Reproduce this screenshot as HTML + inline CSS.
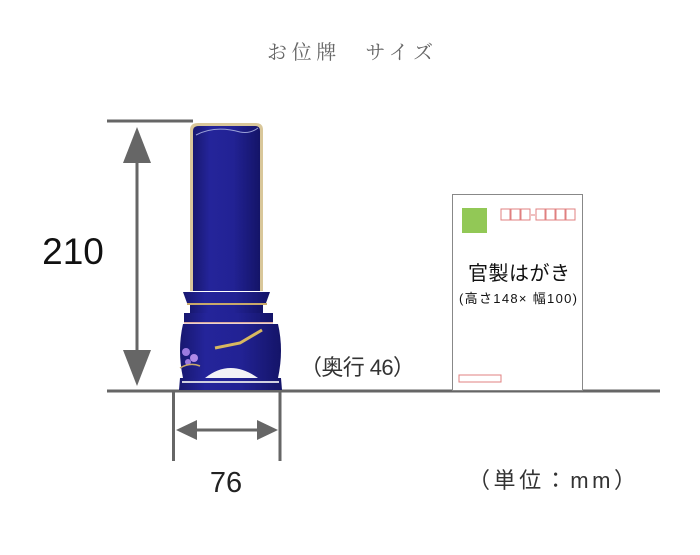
<!DOCTYPE html>
<html><head><meta charset="utf-8"><style>
html,body{margin:0;padding:0;background:#fff;}
body{width:700px;height:550px;overflow:hidden;}
</style></head><body>
<svg width="700" height="550" viewBox="0 0 700 550" xmlns="http://www.w3.org/2000/svg" font-family="Liberation Sans, Noto Sans CJK JP, sans-serif">
<defs>
<linearGradient id="bl" x1="0" x2="1" y1="0" y2="0">
<stop offset="0" stop-color="#181870"/><stop offset="0.25" stop-color="#24249a"/><stop offset="0.6" stop-color="#222294"/><stop offset="1" stop-color="#141468"/>
</linearGradient>
</defs>
<text x="350" y="59" text-anchor="middle" font-size="20" fill="#666" font-family="Liberation Serif, Noto Serif CJK SC, serif" textLength="166">お位牌　サイズ</text>
<line x1="107" y1="121" x2="193" y2="121" stroke="#666" stroke-width="3"/>
<line x1="107" y1="391" x2="660" y2="391" stroke="#666" stroke-width="3"/>
<line x1="137" y1="150" x2="137" y2="360" stroke="#666" stroke-width="3"/>
<polygon points="137,127 123,163 151,163" fill="#666"/>
<polygon points="137,386 123,350 151,350" fill="#666"/>
<line x1="173.5" y1="391" x2="173.5" y2="461" stroke="#666" stroke-width="3"/>
<line x1="280" y1="391" x2="280" y2="461" stroke="#666" stroke-width="3"/>
<line x1="190" y1="430" x2="265" y2="430" stroke="#666" stroke-width="3"/>
<polygon points="176,430 197,420 197,440" fill="#666"/>
<polygon points="278,430 257,420 257,440" fill="#666"/>
<text x="73" y="264" text-anchor="middle" font-size="37" fill="#111">210</text>
<text x="226" y="492" text-anchor="middle" font-size="29" fill="#222">76</text>
<text x="300" y="375" font-size="22" fill="#333" textLength="115">（奥行 46）</text>
<text x="468" y="488" font-size="22" fill="#333" textLength="168">（単位：mm）</text>
<path d="M190,291 L190,130 Q190,123 198,123 L256,123 Q263,123 263,130 L263,291 Z" fill="#d9c79a"/>
<path d="M193,291 L193,131 Q193,126 199,126 L255,126 Q260,126 260,131 L260,291 Z" fill="url(#bl)"/>
<path d="M196,135 Q215,125 240,132 Q250,134 258,128" stroke="#9aa0d8" stroke-width="1" fill="none"/>
<path d="M183,292 L270,292 L266,303 L187,303 Z" fill="url(#bl)"/>
<rect x="187" y="303" width="80" height="2" fill="#c9a96a"/>
<rect x="190" y="305" width="73" height="8" fill="url(#bl)"/>
<path d="M184,313 L273,313 L273,322 L184,322 Z" fill="url(#bl)"/>
<rect x="184" y="322" width="89" height="1.5" fill="#d8a8a0"/>
<path d="M183,324 L278,324 Q284,350 278,378 L183,378 Q177,350 183,324 Z" fill="url(#bl)"/>
<path d="M205,378 Q230,358 258,378 Z" fill="#f2f2f6"/>
<path d="M180,378 L281,378 L282,390 L179,390 Z" fill="url(#bl)"/>
<rect x="182" y="381" width="97" height="2" fill="#d0d0e0"/>
<path d="M215,348 L240,343 L262,330" stroke="#d8b860" stroke-width="3" fill="none"/>
<circle cx="186" cy="352" r="4" fill="#9c7be0"/><circle cx="194" cy="358" r="4" fill="#b08ae8"/><circle cx="188" cy="362" r="3" fill="#9c7be0"/>
<path d="M180,368 Q190,362 200,366" stroke="#c9a96a" stroke-width="1.5" fill="none"/>
<rect x="452.5" y="194.5" width="130" height="196" fill="#fff" stroke="#888" stroke-width="1"/>
<rect x="462" y="208" width="25" height="25" fill="#92c856"/>
<g fill="none" stroke="#e08080" stroke-width="1">
<rect x="501" y="209" width="9" height="11"/><rect x="511" y="209" width="9" height="11"/><rect x="521" y="209" width="9" height="11"/>
<line x1="531" y1="215" x2="535" y2="215"/>
<rect x="536" y="209" width="9" height="11"/><rect x="546" y="209" width="9" height="11"/><rect x="556" y="209" width="9" height="11"/><rect x="566" y="209" width="9" height="11"/>
<rect x="459" y="375" width="42" height="7"/>
</g>
<text x="468" y="280" font-size="20" fill="#111" textLength="102">官製はがき</text>
<text x="459" y="303" font-size="13" fill="#111" textLength="118">(高さ148× 幅100)</text>
</svg>
</body></html>
